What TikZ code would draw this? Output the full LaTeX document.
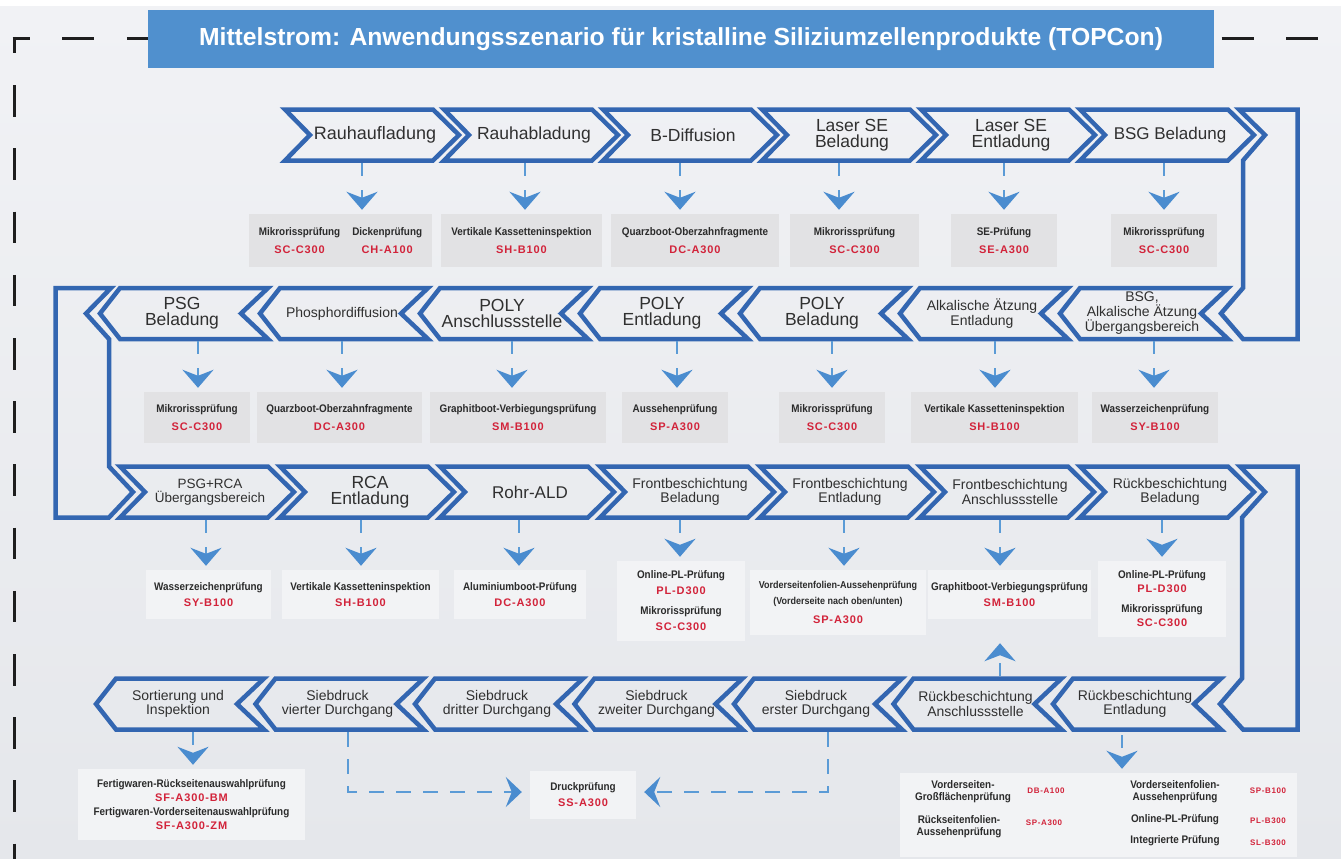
\documentclass[tikz,border=0pt]{standalone}
\usepackage{fontspec}
\setmainfont{Liberation Sans}
\newfontfamily\condf[FakeStretch=0.9]{Liberation Sans}
\newfontfamily\codef[LetterSpace=8.0]{Liberation Sans}
\usetikzlibrary{arrows.meta}
\definecolor{bgtop}{HTML}{F1F2F5}
\definecolor{bgbot}{HTML}{E5E7EB}
\definecolor{chevblue}{HTML}{3366B1}
\definecolor{titleblue}{HTML}{5090CE}
\definecolor{lineblue}{HTML}{5B9BD6}
\definecolor{arrblue}{HTML}{4A8CCF}
\definecolor{boxgray}{HTML}{E2E2E4}
\definecolor{boxlight}{HTML}{F2F3F5}
\definecolor{codered}{HTML}{D2233A}
\definecolor{labc}{HTML}{2B2B2B}
\definecolor{ctextc}{HTML}{303030}
\definecolor{framec}{HTML}{1E1E1E}
\newcommand\lb[1]{{\condf\bfseries\color{labc}#1}}
\newcommand\cd[1]{{\codef\bfseries\color{codered}#1}}
\newcommand\chfL{\fontsize{17.5}{15.6}\selectfont}
\newcommand\chfM{\fontsize{17}{15.6}\selectfont}
\newcommand\chfX{\fontsize{18}{15.6}\selectfont}
\newcommand\chfS{\fontsize{14}{14.5}\selectfont}
\newcommand\chfT{\fontsize{13.5}{14.3}\selectfont}
% right-pointing chevron: name, left x, mid y, font, text
\newcommand\chR[5]{%
  \draw[chev] (#2,#3-25.5) -- (#2+148,#3-25.5) -- (#2+174,#3) -- (#2+148,#3+25.5) -- (#2,#3+25.5) -- (#2+25,#3) -- cycle;
  \node[ctext,font=#4] (#1) at (#2+90,#3) {#5};}
% left-pointing chevron
\newcommand\chL[5]{%
  \draw[chev] (#2,#3-25.5) -- (#2+148,#3-25.5) -- (#2+121,#3) -- (#2+148,#3+25.5) -- (#2,#3+25.5) -- (#2-20,#3) -- cycle;
  \node[ctext,font=#4] (#1) at (#2+62,#3) {#5};}
\tikzset{
  chev/.style={draw=chevblue, line width=4.5pt, line join=miter},
  ctext/.style={text=ctextc, align=center, inner sep=0pt},
  gbox/.style={fill=boxgray, inner sep=0pt, align=center, font=\fontsize{11}{18}\selectfont},
  lbox/.style={fill=boxlight, inner sep=0pt, align=center, font=\fontsize{11}{16}\selectfont},
  frame/.style={draw=framec, line width=3pt},
  arr/.style={draw=lineblue, line width=2.5pt, dash pattern=on 13pt off 14pt, shorten >=4pt,
    -{Stealth[length=18pt,width=31pt,inset=6pt,color=arrblue]}},
  dline/.style={draw=lineblue, line width=2.5pt, dash pattern=on 15pt off 12pt,
    -{Stealth[length=16pt,width=30pt,inset=6pt,color=arrblue]}},
  smlab/.style={inner sep=0pt, align=center, font=\fontsize{11}{11.5}\selectfont},
  smcode/.style={inner sep=0pt, font=\fontsize{8}{9}\selectfont},
}
\begin{document}
\begin{tikzpicture}[x=1pt,y=-1pt]
\useasboundingbox (0,0) rectangle (1341,859);
\fill[white] (0,0) rectangle (1341,859);
\shade[top color=bgtop, bottom color=bgbot] (0,7) rectangle (1341,859);
% dashed frame
\draw[frame, dash pattern=on 31.5pt off 31.7pt, dash phase=15pt] (14,37) -- (14,859);
\draw[frame, dash pattern=on 32pt off 32.4pt, dash phase=14.5pt] (12.5,38.5) -- (1341,38.5);
% title
\node[fill=titleblue, text=white, minimum width=1066pt, minimum height=58pt, inner sep=0pt,
  font=\bfseries\fontsize{24.7}{30}\selectfont] (title) at (681,39)
  {Mittelstrom: Anwendungsszenario für kristalline Siliziumzellenprodukte (TOPCon)};
% U-turn connectors
\draw[chev] (1239,109.5) -- (1297.5,109.5) -- (1297.5,339) -- (1243,339) -- (1221,313.5) -- (1243,288) -- (1243,160.5) -- (1265,135) -- cycle;
\draw[chev] (55.5,288) -- (111,288) -- (86,313.5) -- (109,339) -- (109,466.5) -- (133,492) -- (109,517.5) -- (55.5,517.5) -- cycle;
\draw[chev] (1240,466.5) -- (1297.5,466.5) -- (1297.5,729.5) -- (1243,729.5) -- (1220,704) -- (1242,678.5) -- (1242,517.5) -- (1265,492) -- cycle;
% row 1
\chR{c11}{285}{135}{\chfX}{Rauhaufladung}
\chR{c12}{444}{135}{\chfL}{Rauhabladung}
\chR{c13}{603}{135}{\chfL}{B-Diffusion}
\chR{c14}{762}{135}{\chfL}{Laser SE\\Beladung}
\chR{c15}{921}{135}{\chfL}{Laser SE\\Entladung}
\chR{c16}{1080}{135}{\chfM}{BSG Beladung}
% row 2
\chL{c21}{120}{313.5}{\chfL}{PSG\\Beladung}
\chL{c22}{280}{313.5}{\chfS}{Phosphordiffusion}
\chL{c23}{440}{313.5}{\chfL}{POLY\\Anschlussstelle}
\chL{c24}{600}{313.5}{\chfL}{POLY\\Entladung}
\chL{c25}{760}{313.5}{\chfL}{POLY\\Beladung}
\chL{c26}{920}{313.5}{\chfS}{Alkalische Ätzung\\Entladung}
\chL{c27}{1080}{313.5}{\chfS}{BSG,\\Alkalische Ätzung\\Übergangsbereich}
% row 3
\chR{c31}{120}{492}{\chfT}{PSG+RCA\\Übergangsbereich}
\chR{c32}{280}{492}{\chfL}{RCA\\Entladung}
\chR{c33}{440}{492}{\chfM}{Rohr-ALD}
\chR{c34}{600}{492}{\chfS}{Frontbeschichtung\\Beladung}
\chR{c35}{760}{492}{\chfS}{Frontbeschichtung\\Entladung}
\chR{c36}{920}{492}{\chfS}{Frontbeschichtung\\Anschlussstelle}
\chR{c37}{1080}{492}{\chfS}{Rückbeschichtung\\Beladung}
% row 4
\chL{c41}{116}{704}{\chfS}{Sortierung und\\Inspektion}
\chL{c42}{275.5}{704}{\chfS}{Siebdruck\\vierter Durchgang}
\chL{c43}{435}{704}{\chfS}{Siebdruck\\dritter Durchgang}
\chL{c44}{594.5}{704}{\chfS}{Siebdruck\\zweiter Durchgang}
\chL{c45}{754}{704}{\chfS}{Siebdruck\\erster Durchgang}
\chL{c46}{913.5}{704}{\chfS}{Rückbeschichtung\\Anschlussstelle}
\chL{c47}{1073}{704}{\chfS}{Rückbeschichtung\\Entladung}
% row 1 boxes
\node[gbox,minimum width=183pt,minimum height=53pt] (b11) at (340.5,240.5)
  {\begin{tabular}{@{}c@{\hspace{12pt}}c@{}}\lb{Mikrorissprüfung}&\lb{Dickenprüfung}\\\cd{SC-C300}&\cd{CH-A100}\end{tabular}};
\node[gbox,minimum width=161pt,minimum height=53pt] (b12) at (521.5,240.5) {\lb{Vertikale Kassetteninspektion}\\\cd{SH-B100}};
\node[gbox,minimum width=168pt,minimum height=53pt] (b13) at (695,240.5) {\lb{Quarzboot-Oberzahnfragmente}\\\cd{DC-A300}};
\node[gbox,minimum width=129pt,minimum height=53pt] (b14) at (854.5,240.5) {\lb{Mikrorissprüfung}\\\cd{SC-C300}};
\node[gbox,minimum width=106pt,minimum height=53pt] (b15) at (1004,240.5) {\lb{SE-Prüfung}\\\cd{SE-A300}};
\node[gbox,minimum width=106pt,minimum height=53pt] (b16) at (1164,240.5) {\lb{Mikrorissprüfung}\\\cd{SC-C300}};
% row 2 boxes
\node[gbox,minimum width=106pt,minimum height=51pt] (b21) at (197,417.5) {\lb{Mikrorissprüfung}\\\cd{SC-C300}};
\node[gbox,minimum width=165pt,minimum height=51pt] (b22) at (339.5,417.5) {\lb{Quarzboot-Oberzahnfragmente}\\\cd{DC-A300}};
\node[gbox,minimum width=176pt,minimum height=51pt] (b23) at (518,417.5) {\lb{Graphitboot-Verbiegungsprüfung}\\\cd{SM-B100}};
\node[gbox,minimum width=106pt,minimum height=51pt] (b24) at (675,417.5) {\lb{Aussehenprüfung}\\\cd{SP-A300}};
\node[gbox,minimum width=106pt,minimum height=51pt] (b25) at (832,417.5) {\lb{Mikrorissprüfung}\\\cd{SC-C300}};
\node[gbox,minimum width=167pt,minimum height=51pt] (b26) at (994.5,417.5) {\lb{Vertikale Kassetteninspektion}\\\cd{SH-B100}};
\node[gbox,minimum width=126pt,minimum height=51pt] (b27) at (1155,417.5) {\lb{Wasserzeichenprüfung}\\\cd{SY-B100}};
% row 3 boxes
\node[lbox,minimum width=125pt,minimum height=49pt] (b31) at (208.5,594.5) {\lb{Wasserzeichenprüfung}\\\cd{SY-B100}};
\node[lbox,minimum width=157pt,minimum height=49pt] (b32) at (360.5,594.5) {\lb{Vertikale Kassetteninspektion}\\\cd{SH-B100}};
\node[lbox,minimum width=132pt,minimum height=49pt] (b33) at (520,594.5) {\lb{Aluminiumboot-Prüfung}\\\cd{DC-A300}};
\node[lbox,minimum width=128pt,minimum height=80pt] (b34) at (681,601)
  {\lb{Online-PL-Prüfung}\\\cd{PL-D300}\\[4pt]\lb{Mikrorissprüfung}\\\cd{SC-C300}};
\node[lbox,minimum width=176pt,minimum height=65pt,font=\fontsize{10}{16}\selectfont] (b35) at (838,602.5)
  {\lb{Vorderseitenfolien-Aussehenprüfung}\\\lb{(Vorderseite nach oben/unten)}\\[3pt]{\fontsize{11}{16}\selectfont\cd{SP-A300}}};
\node[lbox,minimum width=163pt,minimum height=49pt] (b36) at (1009.5,594.5) {\lb{Graphitboot-Verbiegungsprüfung}\\\cd{SM-B100}};
\node[lbox,minimum width=128pt,minimum height=76pt,font=\fontsize{11}{14}\selectfont] (b37) at (1162,599)
  {\lb{Online-PL-Prüfung}\\\cd{PL-D300}\\[6pt]\lb{Mikrorissprüfung}\\\cd{SC-C300}};
% row 4 boxes
\node[lbox,minimum width=227pt,minimum height=71pt,font=\fontsize{11}{14}\selectfont] (b41) at (191.5,804.5)
  {\lb{Fertigwaren-Rückseitenauswahlprüfung}\\\cd{SF-A300-BM}\\\lb{Fertigwaren-Vorderseitenauswahlprüfung}\\\cd{SF-A300-ZM}};
\node[lbox,minimum width=106pt,minimum height=48pt] (druck) at (583,795) {\lb{Druckprüfung}\\\cd{SS-A300}};
\node[fill=boxlight, inner sep=0pt, minimum width=397pt, minimum height=84pt] (b47) at (1098.5,815) {};
\node[smlab] (n1) at (963,791.5) {\lb{Vorderseiten-}\\\lb{Großflächenprüfung}};
\node[smcode] (n2) at (1046,791) {\cd{DB-A100}};
\node[smlab] (n3) at (959,826.5) {\lb{Rückseitenfolien-}\\\lb{Aussehenprüfung}};
\node[smcode] (n4) at (1044,823) {\cd{SP-A300}};
\node[smlab] (n5) at (1175,791.5) {\lb{Vorderseitenfolien-}\\\lb{Aussehenprüfung}};
\node[smcode] (n6) at (1268,791) {\cd{SP-B100}};
\node[smlab] (n7) at (1175,820) {\lb{Online-PL-Prüfung}};
\node[smcode] (n8) at (1268,821) {\cd{PL-B300}};
\node[smlab] (n9) at (1175,841) {\lb{Integrierte Prüfung}};
\node[smcode] (n10) at (1268,843) {\cd{SL-B300}};
% row 1 arrows
\coordinate (k11) at (362,163);  \draw[arr] (k11) -- (k11 |- b11.north);
\coordinate (k12) at (525,163);  \draw[arr] (k12) -- (k12 |- b12.north);
\coordinate (k13) at (680,163);  \draw[arr] (k13) -- (k13 |- b13.north);
\coordinate (k14) at (839,163);  \draw[arr] (k14) -- (k14 |- b14.north);
\coordinate (k15) at (1004,163); \draw[arr] (k15) -- (k15 |- b15.north);
\coordinate (k16) at (1164,163); \draw[arr] (k16) -- (k16 |- b16.north);
% row 2 arrows
\coordinate (k21) at (198,341);  \draw[arr] (k21) -- (k21 |- b21.north);
\coordinate (k22) at (342,341);  \draw[arr] (k22) -- (k22 |- b22.north);
\coordinate (k23) at (512,341);  \draw[arr] (k23) -- (k23 |- b23.north);
\coordinate (k24) at (677,341);  \draw[arr] (k24) -- (k24 |- b24.north);
\coordinate (k25) at (832,341);  \draw[arr] (k25) -- (k25 |- b25.north);
\coordinate (k26) at (995,341);  \draw[arr] (k26) -- (k26 |- b26.north);
\coordinate (k27) at (1154,341); \draw[arr] (k27) -- (k27 |- b27.north);
% row 3 arrows
\coordinate (k31) at (206,520);  \draw[arr] (k31) -- (k31 |- b31.north);
\coordinate (k32) at (361,520);  \draw[arr] (k32) -- (k32 |- b32.north);
\coordinate (k33) at (519,520);  \draw[arr] (k33) -- (k33 |- b33.north);
\coordinate (k34) at (680,520);  \draw[arr] (k34) -- (k34 |- b34.north);
\coordinate (k35) at (844,520);  \draw[arr] (k35) -- (k35 |- b35.north);
\coordinate (k36) at (1000,520); \draw[arr] (k36) -- (k36 |- b36.north);
\coordinate (k37) at (1162,520); \draw[arr] (k37) -- (k37 |- b37.north);
% row 4 arrows
\coordinate (k41) at (193,732);  \draw[arr] (k41) -- (k41 |- b41.north);
\coordinate (k47) at (1122,735); \draw[arr] (k47) -- (k47 |- b47.north);
\coordinate (k46) at (1000,676); \draw[arr, shorten >=24pt] (k46) -- (k46 |- b36.south);
\coordinate (k42) at (348,732);  \draw[dline] (k42) |- ([xshift=-8pt,yshift=3pt]druck.west);
\coordinate (k45) at (828,732);  \draw[dline] (k45) |- ([xshift=8pt,yshift=3pt]druck.east);
\end{tikzpicture}
\end{document}
